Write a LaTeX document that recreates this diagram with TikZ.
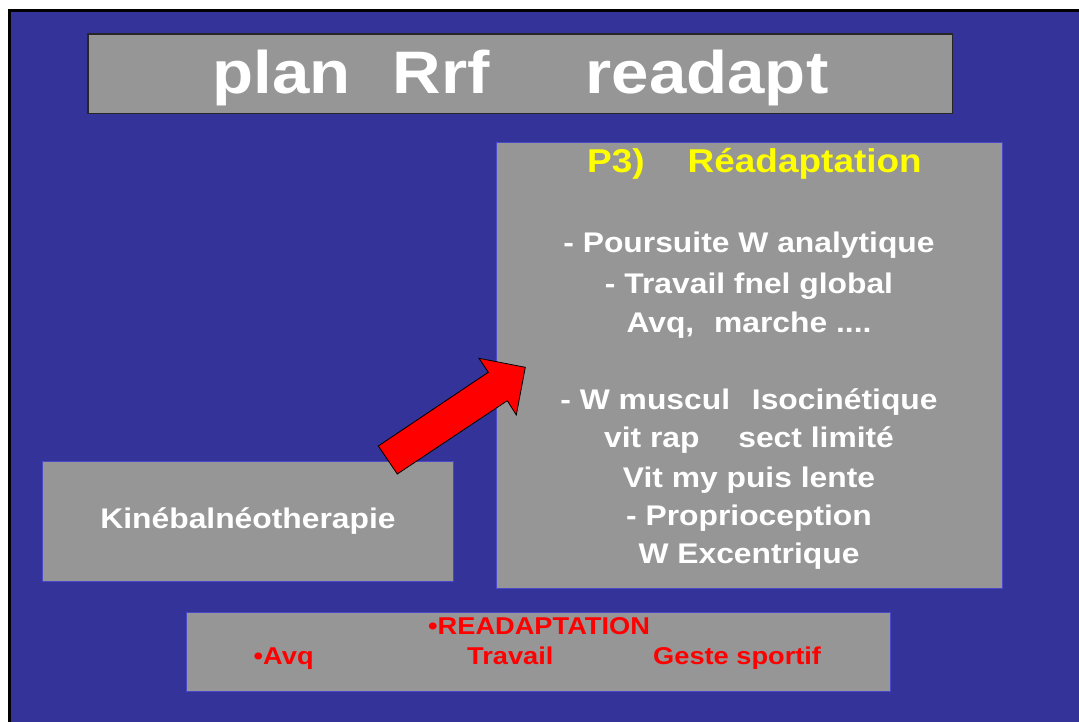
\documentclass[tikz,border=0pt]{standalone}
\usepackage{fontspec}
\newfontfamily\slidefont{Liberation Sans}[FakeStretch=1.12]
\definecolor{slideblue}{RGB}{51,51,153}
\definecolor{panelgray}{RGB}{150,150,150}
\definecolor{paneledge}{RGB}{72,72,200}
\definecolor{headyellow}{RGB}{255,255,0}
\definecolor{arrowred}{RGB}{255,0,0}
\begin{document}
\begin{tikzpicture}[x=1pt,y=-1pt,
  panel/.style={draw=paneledge, line width=1pt, fill=panelgray,
    inner sep=0pt, outer sep=0pt, anchor=north west},
  titlebox/.style={draw=black!85, line width=1.5pt, fill=panelgray,
    inner sep=0pt, outer sep=0pt, anchor=north west},
  bodytext/.style={inner sep=0pt, anchor=base, text=white,
    font=\slidefont\bfseries\fontsize{28.4}{28.4}\selectfont},
  headtext/.style={inner sep=0pt, anchor=base west, text=headyellow,
    font=\slidefont\bfseries\fontsize{33}{33}\selectfont},
  redtext/.style={inner sep=0pt, anchor=base west, text=arrowred,
    font=\slidefont\bfseries\fontsize{24.3}{24.3}\selectfont},
  blockarrow/.style={fill=arrowred, draw=black, line width=0.8pt, line join=miter}]

\useasboundingbox (0,0) rectangle (1079,722);

% slide background and frame
\fill[white] (0,0) rectangle (1079,722);
\fill[slideblue] (9.5,11) rectangle (1090,735);
\draw[black, line width=3pt] (9.5,735) -- (9.5,11) -- (1090,11);

% title bar
\node[titlebox, minimum width=864.5pt, minimum height=79.5pt] (title) at (88,34) {};
\node[inner sep=0pt, anchor=base, text=white,
  font=\slidefont\bfseries\fontsize{60}{60}\selectfont] (titletext) at (520.5,94)
  {plan\hspace{42pt}Rrf\hspace{96pt}readapt};

% left panel
\node[panel, minimum width=410.5pt, minimum height=120pt] (kine) at (42.5,461) {};
\node[bodytext] (kinetext) at (248,528) {Kinébalnéotherapie};

% right panel
\node[panel, minimum width=506pt, minimum height=445pt] (p3) at (496,143) {};
\node[headtext] (p3head) at (587,173) {P3)\hspace{43pt}Réadaptation};
\node[bodytext] (l1) at (749,253) {- Poursuite W analytique};
\node[bodytext] (l2) at (749,293) {- Travail fnel global};
\node[bodytext] (l3) at (749,332) {Avq,\hspace{11pt} marche ....};
\node[bodytext] (l4) at (749,409) {- W muscul\hspace{13pt} Isocinétique};
\node[bodytext] (l5) at (749,447) {vit rap\hspace{30pt} sect limité};
\node[bodytext] (l6) at (749,487) {Vit my puis lente};
\node[bodytext] (l7) at (749,525) {- Proprioception};
\node[bodytext] (l8) at (749,563) {W Excentrique};

% bottom panel
\node[panel, minimum width=704pt, minimum height=79pt] (bottom) at (186,612.5) {};
\node[redtext] (readapt) at (428,634) {•READAPTATION};
\node[redtext] (avq) at (253.5,664) {•Avq};
\node[redtext] (travail) at (467,664) {Travail};
\node[redtext] (geste) at (653,664) {Geste sportif};

% block arrow from the left panel towards the right panel
\coordinate (tailA) at (378.3,446);
\coordinate (tailB) at (397.3,474);
\coordinate (neckA) at (488.3,372.3);
\coordinate (barbA) at (479,358.3);
\coordinate (tip) at (525.3,367.3);
\coordinate (barbB) at (516.3,415);
\coordinate (neckB) at (507.3,400.7);
\draw[blockarrow] (tailA) -- (neckA) -- (barbA) -- (tip) -- (barbB) -- (neckB) -- (tailB) -- cycle;

\end{tikzpicture}
\end{document}
